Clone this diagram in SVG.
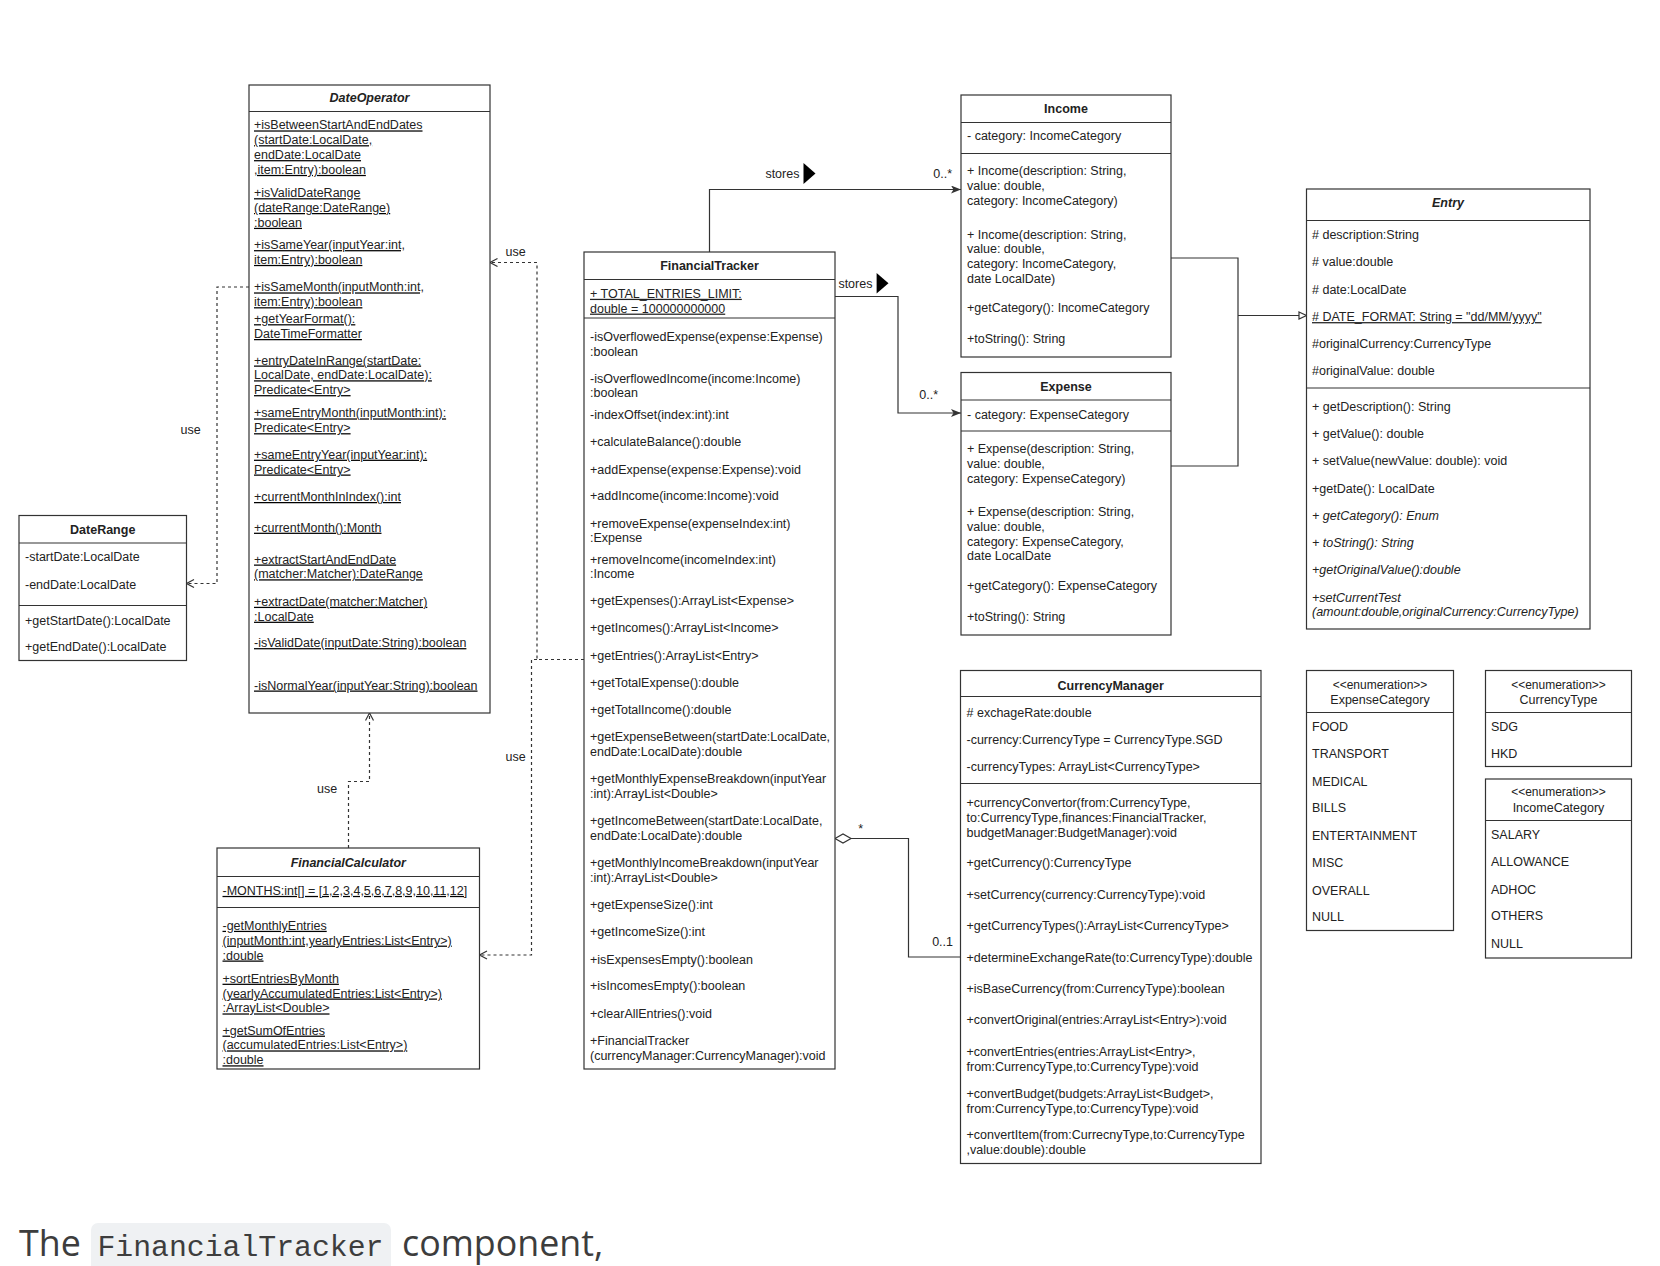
<svg xmlns="http://www.w3.org/2000/svg" width="1660" height="1266" viewBox="0 0 1660 1266">
<style>
.box{fill:#fff;stroke:#333;stroke-width:1.2}
.div{stroke:#333;stroke-width:1.2}
text{font-family:"Liberation Sans",Arial,Helvetica,sans-serif;font-size:12.5px;fill:#222}
.t{font-weight:bold;text-anchor:middle}
.c{text-anchor:middle}
.i{font-style:italic}
.u{text-decoration:underline}
.e{text-anchor:end}
.conn path{fill:none;stroke:#333;stroke-width:1.2}
.conn .d{stroke-dasharray:3 3}
</style>
<defs>
<marker id="arrCls" markerUnits="userSpaceOnUse" markerWidth="11" markerHeight="8" refX="10" refY="4" orient="auto"><path d="M0,0 L10,4 L0,8 L2.5,4 z" fill="#333" stroke="none"/></marker>
<marker id="arrOpen" markerUnits="userSpaceOnUse" markerWidth="10" markerHeight="10" refX="8" refY="4.5" orient="auto"><path d="M0.5,0.5 L8,4.5 L0.5,8.5" fill="none" stroke="#333" stroke-width="1.2"/></marker>
<marker id="triHollow" markerUnits="userSpaceOnUse" markerWidth="10" markerHeight="10" refX="8.5" refY="4.5" orient="auto"><path d="M1,1 L8.5,4.5 L1,8 z" fill="#fff" stroke="#333" stroke-width="1.2"/></marker>
</defs>
<rect width="1660" height="1266" fill="#fff"/>

<g class="conn" id="connectors">
<path d="M709.5,252 V189.5 H961" marker-end="url(#arrCls)"/>
<path d="M835,296.5 H898 V413 H961" marker-end="url(#arrCls)"/>
<path d="M1171,258 H1238 V466 H1171"/>
<path d="M1238,315.5 H1306.5" marker-end="url(#triHollow)"/>
<path class="d" d="M249,287 H217 V583.5 H186.5" marker-end="url(#arrOpen)"/>
<path class="d" d="M584,659.5 H537 V262.5 H490" marker-end="url(#arrOpen)"/>
<path class="d" d="M537,659.5 H531.5 V955 H479.5" marker-end="url(#arrOpen)"/>
<path class="d" d="M348.5,848 V781.5 H369.5 V713" marker-end="url(#arrOpen)"/>
<path d="M851,838.5 H908.5 V957 H960.5"/>
<polygon points="835,838.5 843,834 851,838.5 843,843" fill="#fff" stroke="#333" stroke-width="1.2"/>
<polygon points="803.5,163 815.5,173.5 803.5,184" fill="#000"/>
<polygon points="876.6,273 888.5,283.2 876.6,293.5" fill="#000"/>
<text x="782.4" y="178" class="c">stores</text>
<text x="855.4" y="288" class="c">stores</text>
<text x="952" y="178" class="e">0..*</text>
<text x="938" y="399" class="e">0..*</text>
<text x="190.6" y="434" class="c">use</text>
<text x="515.6" y="256" class="c">use</text>
<text x="515.6" y="761" class="c">use</text>
<text x="327.1" y="793" class="c">use</text>
<text x="860.7" y="833" class="c">*</text>
<text x="953" y="945.5" class="e">0..1</text>
</g>

<g id="DateOperator">
<rect class="box" x="249" y="85" width="241" height="628"/>
<line class="div" x1="249" y1="111.5" x2="490" y2="111.5"/>
<text x="369.5" y="102" class="t i">DateOperator</text>
<g class="u">
<text x="254" y="129.4">+isBetweenStartAndEndDates</text>
<text x="254" y="144.2">(startDate:LocalDate,</text>
<text x="254" y="159.1">endDate:LocalDate</text>
<text x="254" y="173.9">,item:Entry):boolean</text>
<text x="254" y="197.2">+isValidDateRange</text>
<text x="254" y="212">(dateRange:DateRange)</text>
<text x="254" y="226.8">:boolean</text>
<text x="254" y="249.1">+isSameYear(inputYear:int,</text>
<text x="254" y="263.9">item:Entry):boolean</text>
<text x="254" y="291.4">+isSameMonth(inputMonth:int,</text>
<text x="254" y="306.2">item:Entry):boolean</text>
<text x="254" y="323.2">+getYearFormat():</text>
<text x="254" y="338">DateTimeFormatter</text>
<text x="254" y="364.5">+entryDateInRange(startDate:</text>
<text x="254" y="379.3">LocalDate, endDate:LocalDate):</text>
<text x="254" y="394.1">Predicate&lt;Entry&gt;</text>
<text x="254" y="417.4">+sameEntryMonth(inputMonth:int):</text>
<text x="254" y="432.2">Predicate&lt;Entry&gt;</text>
<text x="254" y="458.7">+sameEntryYear(inputYear:int):</text>
<text x="254" y="473.5">Predicate&lt;Entry&gt;</text>
<text x="254" y="501">+currentMonthInIndex():int</text>
<text x="254" y="531.7">+currentMonth():Month</text>
<text x="254" y="563.5">+extractStartAndEndDate</text>
<text x="254" y="578.3">(matcher:Matcher):DateRange</text>
<text x="254" y="605.8">+extractDate(matcher:Matcher)</text>
<text x="254" y="620.7">:LocalDate</text>
<text x="254" y="647.1">-isValidDate(inputDate:String):boolean</text>
<text x="254" y="689.5">-isNormalYear(inputYear:String):boolean</text>
</g>
</g>

<g id="FinancialTracker">
<rect class="box" x="584" y="252" width="251" height="817"/>
<line class="div" x1="584" y1="279.5" x2="835" y2="279.5"/>
<line class="div" x1="584" y1="318" x2="835" y2="318"/>
<text x="709.5" y="270" class="t">FinancialTracker</text>
<text x="590" y="297.8" class="u">+ TOTAL_ENTRIES_LIMIT:</text>
<text x="590" y="312.6" class="u">double = 100000000000</text>
<text x="590" y="341.2">-isOverflowedExpense(expense:Expense)</text>
<text x="590" y="356">:boolean</text>
<text x="590" y="382.5">-isOverflowedIncome(income:Income)</text>
<text x="590" y="397.3">:boolean</text>
<text x="590" y="418.5">-indexOffset(index:int):int</text>
<text x="590" y="446">+calculateBalance():double</text>
<text x="590" y="473.5">+addExpense(expense:Expense):void</text>
<text x="590" y="500">+addIncome(income:Income):void</text>
<text x="590" y="527.5">+removeExpense(expenseIndex:int)</text>
<text x="590" y="542.3">:Expense</text>
<text x="590" y="563.5">+removeIncome(incomeIndex:int)</text>
<text x="590" y="578.3">:Income</text>
<text x="590" y="604.8">+getExpenses():ArrayList&lt;Expense&gt;</text>
<text x="590" y="632.3">+getIncomes():ArrayList&lt;Income&gt;</text>
<text x="590" y="659.8">+getEntries():ArrayList&lt;Entry&gt;</text>
<text x="590" y="687.4">+getTotalExpense():double</text>
<text x="590" y="713.8">+getTotalIncome():double</text>
<text x="590" y="741.4">+getExpenseBetween(startDate:LocalDate,</text>
<text x="590" y="756.2">endDate:LocalDate):double</text>
<text x="590" y="782.6">+getMonthlyExpenseBreakdown(inputYear</text>
<text x="590" y="797.5">:int):ArrayList&lt;Double&gt;</text>
<text x="590" y="825">+getIncomeBetween(startDate:LocalDate,</text>
<text x="590" y="839.8">endDate:LocalDate):double</text>
<text x="590" y="867.3">+getMonthlyIncomeBreakdown(inputYear</text>
<text x="590" y="882.2">:int):ArrayList&lt;Double&gt;</text>
<text x="590" y="908.6">+getExpenseSize():int</text>
<text x="590" y="936.2">+getIncomeSize():int</text>
<text x="590" y="963.7">+isExpensesEmpty():boolean</text>
<text x="590" y="990.1">+isIncomesEmpty():boolean</text>
<text x="590" y="1017.7">+clearAllEntries():void</text>
<text x="590" y="1045.2">+FinancialTracker</text>
<text x="590" y="1060">(currencyManager:CurrencyManager):void</text>
</g>

<g id="Income">
<rect class="box" x="961" y="95" width="210" height="262"/>
<line class="div" x1="961" y1="122.5" x2="1171" y2="122.5"/>
<line class="div" x1="961" y1="153.5" x2="1171" y2="153.5"/>
<text x="1066" y="112.5" class="t">Income</text>
<text x="967" y="140">- category: IncomeCategory</text>
<text x="967" y="175">+ Income(description: String,</text>
<text x="967" y="189.8">value: double,</text>
<text x="967" y="204.6">category: IncomeCategory)</text>
<text x="967" y="238.5">+ Income(description: String,</text>
<text x="967" y="253.3">value: double,</text>
<text x="967" y="268.1">category: IncomeCategory,</text>
<text x="967" y="282.9">date LocalDate)</text>
<text x="967" y="311.5">+getCategory(): IncomeCategory</text>
<text x="967" y="343.3">+toString(): String</text>
</g>

<g id="Expense">
<rect class="box" x="961" y="372.5" width="210" height="262.5"/>
<line class="div" x1="961" y1="400" x2="1171" y2="400"/>
<line class="div" x1="961" y1="431" x2="1171" y2="431"/>
<text x="1066" y="391" class="t">Expense</text>
<text x="967" y="418.5">- category: ExpenseCategory</text>
<text x="967" y="453.4">+ Expense(description: String,</text>
<text x="967" y="468.2">value: double,</text>
<text x="967" y="483">category: ExpenseCategory)</text>
<text x="967" y="515.9">+ Expense(description: String,</text>
<text x="967" y="530.7">value: double,</text>
<text x="967" y="545.5">category: ExpenseCategory,</text>
<text x="967" y="560.3">date LocalDate</text>
<text x="967" y="590">+getCategory(): ExpenseCategory</text>
<text x="967" y="620.7">+toString(): String</text>
</g>

<g id="Entry">
<rect class="box" x="1306.5" y="189" width="283.5" height="440"/>
<line class="div" x1="1306.5" y1="220.5" x2="1590" y2="220.5"/>
<line class="div" x1="1306.5" y1="388" x2="1590" y2="388"/>
<text x="1448" y="206.7" class="t i">Entry</text>
<text x="1312" y="238.5"># description:String</text>
<text x="1312" y="266"># value:double</text>
<text x="1312" y="293.5"># date:LocalDate</text>
<text x="1312" y="321.1" class="u"># DATE_FORMAT: String = "dd/MM/yyyy"</text>
<text x="1312" y="347.5">#originalCurrency:CurrencyType</text>
<text x="1312" y="375">#originalValue: double</text>
<text x="1312" y="411">+ getDescription(): String</text>
<text x="1312" y="437.5">+ getValue(): double</text>
<text x="1312" y="465">+ setValue(newValue: double): void</text>
<text x="1312" y="492.5">+getDate(): LocalDate</text>
<text x="1312" y="520.1" class="i">+ getCategory(): Enum</text>
<text x="1312" y="546.5" class="i">+ toString(): String</text>
<text x="1312" y="574.1" class="i">+getOriginalValue():double</text>
<text x="1312" y="601.6" class="i">+setCurrentTest</text>
<text x="1312" y="616.4" class="i">(amount:double,originalCurrency:CurrencyType)</text>
</g>

<g id="CurrencyManager">
<rect class="box" x="960.5" y="670.5" width="300.5" height="493"/>
<line class="div" x1="960.5" y1="696.5" x2="1261" y2="696.5"/>
<line class="div" x1="960.5" y1="783.5" x2="1261" y2="783.5"/>
<text x="1110.7" y="689.5" class="t">CurrencyManager</text>
<text x="966.5" y="717"># exchageRate:double</text>
<text x="966.5" y="743.5">-currency:CurrencyType = CurrencyType.SGD</text>
<text x="966.5" y="771">-currencyTypes: ArrayList&lt;CurrencyType&gt;</text>
<text x="966.5" y="807">+currencyConvertor(from:CurrencyType,</text>
<text x="966.5" y="821.8">to:CurrencyType,finances:FinancialTracker,</text>
<text x="966.5" y="836.6">budgetManager:BudgetManager):void</text>
<text x="966.5" y="867.3">+getCurrency():CurrencyType</text>
<text x="966.5" y="899.1">+setCurrency(currency:CurrencyType):void</text>
<text x="966.5" y="929.8">+getCurrencyTypes():ArrayList&lt;CurrencyType&gt;</text>
<text x="966.5" y="961.5">+determineExchangeRate(to:CurrencyType):double</text>
<text x="966.5" y="993.3">+isBaseCurrency(from:CurrencyType):boolean</text>
<text x="966.5" y="1024">+convertOriginal(entries:ArrayList&lt;Entry&gt;):void</text>
<text x="966.5" y="1055.8">+convertEntries(entries:ArrayList&lt;Entry&gt;,</text>
<text x="966.5" y="1070.6">from:CurrencyType,to:CurrencyType):void</text>
<text x="966.5" y="1098.1">+convertBudget(budgets:ArrayList&lt;Budget&gt;,</text>
<text x="966.5" y="1113">from:CurrencyType,to:CurrencyType):void</text>
<text x="966.5" y="1139.4">+convertItem(from:CurrecnyType,to:CurrencyType</text>
<text x="966.5" y="1154.2">,value:double):double</text>
</g>

<g id="ExpenseCategory">
<rect class="box" x="1306.5" y="670.5" width="147" height="260"/>
<line class="div" x1="1306.5" y1="712.5" x2="1453.5" y2="712.5"/>
<text x="1380" y="688.5" class="c" style="font-size:12px">&lt;&lt;enumeration&gt;&gt;</text>
<text x="1380" y="704.3" class="c">ExpenseCategory</text>
<text x="1312" y="730.8">FOOD</text>
<text x="1312" y="758.3">TRANSPORT</text>
<text x="1312" y="785.8">MEDICAL</text>
<text x="1312" y="812.3">BILLS</text>
<text x="1312" y="839.8">ENTERTAINMENT</text>
<text x="1312" y="867.3">MISC</text>
<text x="1312" y="894.9">OVERALL</text>
<text x="1312" y="921.3">NULL</text>
</g>

<g id="CurrencyType">
<rect class="box" x="1485.5" y="670.5" width="146" height="96"/>
<line class="div" x1="1485.5" y1="712.5" x2="1631.5" y2="712.5"/>
<text x="1558.5" y="688.5" class="c" style="font-size:12px">&lt;&lt;enumeration&gt;&gt;</text>
<text x="1558.5" y="704.3" class="c">CurrencyType</text>
<text x="1491" y="730.8">SDG</text>
<text x="1491" y="758.3">HKD</text>
</g>

<g id="IncomeCategory">
<rect class="box" x="1485.5" y="779" width="146" height="179"/>
<line class="div" x1="1485.5" y1="820.5" x2="1631.5" y2="820.5"/>
<text x="1558.5" y="796.4" class="c" style="font-size:12px">&lt;&lt;enumeration&gt;&gt;</text>
<text x="1558.5" y="812.3" class="c">IncomeCategory</text>
<text x="1491" y="838.8">SALARY</text>
<text x="1491" y="866.3">ALLOWANCE</text>
<text x="1491" y="893.8">ADHOC</text>
<text x="1491" y="920.3">OTHERS</text>
<text x="1491" y="947.8">NULL</text>
</g>

<g id="DateRange">
<rect class="box" x="19" y="515.5" width="167.5" height="145"/>
<line class="div" x1="19" y1="543" x2="186.5" y2="543"/>
<line class="div" x1="19" y1="605.5" x2="186.5" y2="605.5"/>
<text x="102.7" y="533.9" class="t">DateRange</text>
<text x="25" y="561.4">-startDate:LocalDate</text>
<text x="25" y="588.9">-endDate:LocalDate</text>
<text x="25" y="624.9">+getStartDate():LocalDate</text>
<text x="25" y="651.4">+getEndDate():LocalDate</text>
</g>

<g id="FinancialCalculator">
<rect class="box" x="217" y="848" width="262.5" height="221"/>
<line class="div" x1="217" y1="876.5" x2="479.5" y2="876.5"/>
<line class="div" x1="217" y1="907.5" x2="479.5" y2="907.5"/>
<text x="348.3" y="867.3" class="t i">FinancialCalculator</text>
<g class="u">
<text x="222.5" y="894.9">-MONTHS:int[] = [1,2,3,4,5,6,7,8,9,10,11,12]</text>
<text x="222.5" y="929.8">-getMonthlyEntries</text>
<text x="222.5" y="944.6">(inputMonth:int,yearlyEntries:List&lt;Entry&gt;)</text>
<text x="222.5" y="959.5">:double</text>
<text x="222.5" y="982.7">+sortEntriesByMonth</text>
<text x="222.5" y="997.5">(yearlyAccumulatedEntries:List&lt;Entry&gt;)</text>
<text x="222.5" y="1012.4">:ArrayList&lt;Double&gt;</text>
<text x="222.5" y="1034.6">+getSumOfEntries</text>
<text x="222.5" y="1049.4">(accumulatedEntries:List&lt;Entry&gt;)</text>
<text x="222.5" y="1064.3">:double</text>
</g>
</g>

<g id="caption">
<rect x="91" y="1223" width="300" height="56" rx="7" fill="#eff1f3"/>
<text x="19" y="1256" style="font-family:'Open Sans','Noto Sans',sans-serif;font-size:35.8px;fill:#3d3d3d">The</text>
<text x="97.4" y="1256" style="font-family:'Liberation Mono','DejaVu Sans Mono',monospace;font-size:29.8px;fill:#3d3d3d">FinancialTracker</text>
<text x="402" y="1256" style="font-family:'Open Sans','Noto Sans',sans-serif;font-size:35.8px;fill:#3d3d3d">component,</text>
</g>
</svg>
